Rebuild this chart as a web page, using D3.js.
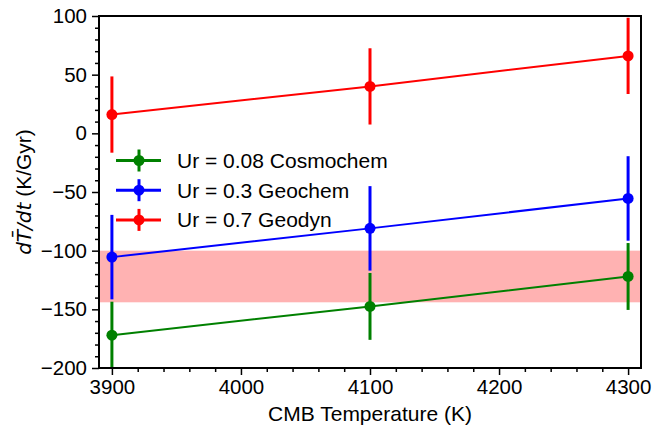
<!DOCTYPE html>
<html><head><meta charset="utf-8">
<script src="https://cdn.jsdelivr.net/npm/d3@7"></script>
<style>
body{margin:0;background:#fff;}
text{font-family:"Liberation Sans",Arial,sans-serif;}
</style></head>
<body><svg id="c" width="652" height="428"></svg>
<script>
const temps = [3900, 4100, 4300];
const seriesNames = ["Ur = 0.08 Cosmochem", "Ur = 0.3 Geochem", "Ur = 0.7 Geodyn"];
const seriesColors = ["#008000", "#0000ff", "#ff0000"];
const cosmochem = [-172, -147.5, -122];
const geochem = [-105.5, -81, -55.5];
const geodyn = [16, 40, 66];
const cosmochemErr = [28.5, 28.5, 28.5];
const geochemErr = [36, 36, 36];
const geodynErr = [32.5, 32.5, 32.5];
const band = [-144, -100];
const xTicks = [3900, 4000, 4100, 4200, 4300];
const yTicks = [-200, -150, -100, -50, 0, 50, 100];
const xDomain = [3890, 4310];
const yDomain = [-200, 100];

const series = [
  {name: seriesNames[0], color: seriesColors[0], vals: cosmochem, err: cosmochemErr},
  {name: seriesNames[1], color: seriesColors[1], vals: geochem, err: geochemErr},
  {name: seriesNames[2], color: seriesColors[2], vals: geodyn, err: geodynErr}
];

const svg = d3.select("#c");
const L = 99, R = 641, T = 16, B = 368;
const x = d3.scaleLinear().domain(xDomain).range([L, R]);
const y = d3.scaleLinear().domain(yDomain).range([B, T]);

svg.append("defs").append("clipPath").attr("id","clip")
  .append("rect").attr("x",L).attr("y",T).attr("width",R-L).attr("height",B-T);

const plot = svg.append("g").attr("clip-path","url(#clip)");
plot.append("rect").attr("x",L).attr("width",R-L)
  .attr("y",y(band[1])).attr("height",y(band[0])-y(band[1]))
  .attr("fill","#ffb2b2");

series.forEach(s=>{
  const g = plot.append("g");
  const line = d3.line().x((d,i)=>x(temps[i])).y(d=>y(d));
  g.append("path").datum(s.vals).attr("d",line).attr("fill","none")
    .attr("stroke",s.color).attr("stroke-width",2);
  g.selectAll("line.eb").data(s.vals).enter().append("line")
    .attr("x1",(d,i)=>x(temps[i])).attr("x2",(d,i)=>x(temps[i]))
    .attr("y1",(d,i)=>y(d-s.err[i])).attr("y2",(d,i)=>y(d+s.err[i]))
    .attr("stroke",s.color).attr("stroke-width",3);
  g.selectAll("circle").data(s.vals).enter().append("circle")
    .attr("cx",(d,i)=>x(temps[i])).attr("cy",d=>y(d)).attr("r",5.5)
    .attr("fill",s.color);
});

// axes
const xAxis = d3.axisBottom(x).tickValues(xTicks).tickFormat(d3.format("d")).tickSize(7).tickPadding(4);
const xMinor = d3.axisBottom(x).tickValues(d3.range(3900,4311,20).filter(v=>v%100)).tickFormat("").tickSize(4);
const yAxis = d3.axisLeft(y).tickValues(yTicks).tickFormat(d=>d<0?"\u2212"+Math.abs(d):d).tickSize(7).tickPadding(5);
const yMinor = d3.axisLeft(y).tickValues(d3.range(-200,101,10).filter(v=>v%50)).tickFormat("").tickSize(4);

function style(g){
  g.select(".domain").remove();
  g.selectAll("line").attr("stroke","#000").attr("stroke-width",1.5);
  g.selectAll("text").attr("font-size","20.5px").attr("fill","#000")
    .attr("font-family","'Liberation Sans',Arial,sans-serif");
}
svg.append("g").attr("transform",`translate(0,${B})`).call(xAxis).call(style);
svg.append("g").attr("transform",`translate(0,${B})`).call(xMinor).call(style);
svg.append("g").attr("transform",`translate(${L},0)`).call(yAxis).call(style);
svg.append("g").attr("transform",`translate(${L},0)`).call(yMinor).call(style);

svg.append("rect").attr("x",L).attr("y",T).attr("width",R-L).attr("height",B-T)
  .attr("fill","none").attr("stroke","#000").attr("stroke-width",2);

// axis labels
svg.append("text").attr("x",(L+R)/2).attr("y",421).attr("text-anchor","middle")
  .attr("font-size","21px").text("CMB Temperature (K)");

const yl = svg.append("text").attr("transform",`translate(31,${(T+B)/2}) rotate(-90)`)
  .attr("text-anchor","middle").attr("font-size","21px");
yl.append("tspan").attr("font-family","'DejaVu Sans',sans-serif").attr("font-style","italic")
  .attr("font-size","20px").text("dT\u0304/dt");
yl.append("tspan").text(" (K/Gyr)");

// legend
const leg = svg.append("g");
series.forEach((s,i)=>{
  const cy = 160.5 + i*29.7;
  const g = leg.append("g");
  g.append("line").attr("x1",116).attr("x2",161).attr("y1",cy).attr("y2",cy)
    .attr("stroke",s.color).attr("stroke-width",3);
  g.append("line").attr("x1",139).attr("x2",139).attr("y1",cy-11).attr("y2",cy+11)
    .attr("stroke",s.color).attr("stroke-width",3);
  g.append("circle").attr("cx",139).attr("cy",cy).attr("r",5.5).attr("fill",s.color);
  g.append("text").attr("x",177).attr("y",cy+7.5).attr("font-size","21px").text(s.name);
});
</script></body></html>
